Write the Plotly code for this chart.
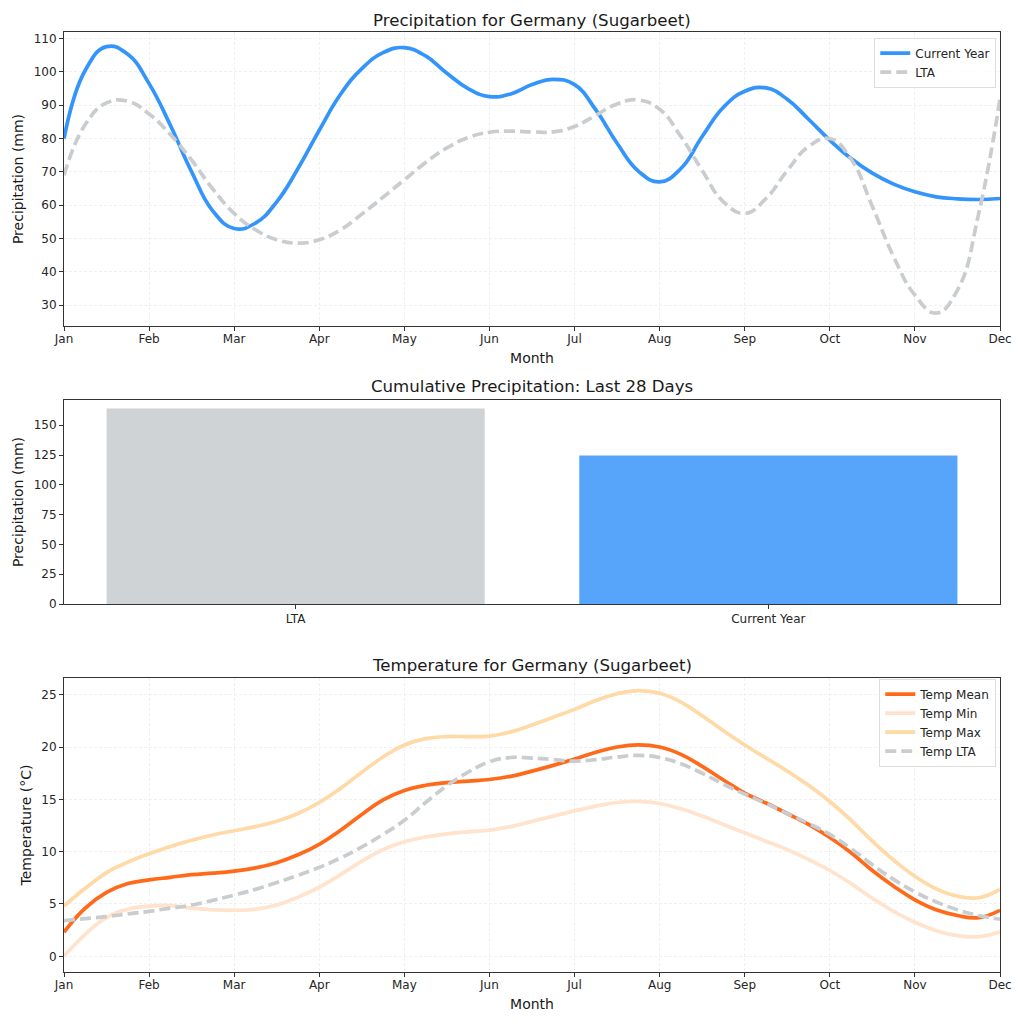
import plotly.graph_objects as go

# 月ラベルと横軸の位置（四半月きざみで読み取り）
months = ["Jan", "Feb", "Mar", "Apr", "May", "Jun", "Jul", "Aug", "Sep", "Oct", "Nov", "Dec"]
month_pos = [0, 1, 2, 3, 4, 5, 6, 7, 8, 9, 10, 11]
samples = [
    0, 0.25, 0.5, 0.75, 1, 1.25, 1.5, 1.75, 2, 2.25, 2.5, 2.75, 3, 3.25, 3.5, 3.75,
    4, 4.25, 4.5, 4.75, 5, 5.25, 5.5, 5.75, 6, 6.25, 6.5, 6.75, 7, 7.25, 7.5, 7.75,
    8, 8.25, 8.5, 8.75, 9, 9.25, 9.5, 9.75, 10, 10.25, 10.5, 10.75, 11,
]

precip_current = [
    80, 100.5, 107.6, 105.3, 96.5, 84, 70, 58.2, 53, 54.6, 61, 71, 82.5, 93.3, 101, 105.8,
    107.3, 104.8, 99.6, 95, 92.6, 93.4, 96.2, 97.8, 96.2, 88.6, 78.6, 70.2, 67, 71, 80.6, 89.4,
    94.2, 95.2, 91.8, 85.8, 79.5, 74, 69.6, 66.3, 64, 62.5, 61.9, 61.7, 62,
]
precip_lta = [
    69, 84.2, 90.7, 91.2, 87.4, 81.2, 73.5, 64.8, 57.5, 52.6, 49.6, 48.6, 49.6, 52.6, 57.3, 62.4,
    67.6, 72.8, 77.2, 80.3, 81.9, 82.2, 82, 82, 83.6, 87, 90.4, 91.6, 88.8, 80.6, 70.4, 61,
    57.5, 62, 70.4, 77.6, 80, 73.8, 59.6, 44.5, 33, 27.6, 34.5, 57.5, 92,
]

bar_labels = ["LTA", "Current Year"]
bar_values = [164, 124.6]

temp_mean = [
    2.3, 4.6, 6.1, 6.95, 7.3, 7.55, 7.8, 7.95, 8.15, 8.45, 8.95, 9.7, 10.7, 12.05, 13.55, 14.95,
    15.85, 16.35, 16.6, 16.75, 16.9, 17.2, 17.7, 18.25, 18.85, 19.5, 20, 20.2, 20, 19.3, 18.15, 16.85,
    15.6, 14.65, 13.65, 12.6, 11.35, 9.9, 8.2, 6.7, 5.4, 4.45, 3.9, 3.7, 4.4,
]
temp_min = [
    0, 2.1, 3.7, 4.5, 4.8, 4.85, 4.6, 4.45, 4.4, 4.5, 4.9, 5.65, 6.6, 7.8, 9.1, 10.2,
    10.95, 11.4, 11.7, 11.9, 12.05, 12.4, 12.9, 13.4, 13.9, 14.35, 14.7, 14.8, 14.6, 14.1, 13.4, 12.6,
    11.8, 11, 10.2, 9.25, 8.2, 6.95, 5.55, 4.3, 3.25, 2.45, 1.98, 1.88, 2.35,
]
temp_max = [
    4.8, 6.5, 8, 9, 9.8, 10.5, 11.1, 11.6, 12, 12.4, 12.9, 13.65, 14.7, 16.05, 17.6, 19.05,
    20.2, 20.8, 21, 21, 21.05, 21.45, 22.1, 22.85, 23.6, 24.45, 25.1, 25.4, 25.15, 24.3, 23, 21.55,
    20.2, 18.95, 17.7, 16.35, 14.8, 13, 11, 9.2, 7.65, 6.45, 5.75, 5.6, 6.4,
]
temp_lta = [
    3.4, 3.6, 3.8, 4.05, 4.3, 4.6, 4.9, 5.35, 5.85, 6.4, 7.05, 7.75, 8.5, 9.4, 10.45, 11.65,
    13, 14.7, 16.3, 17.6, 18.6, 19, 18.95, 18.8, 18.65, 18.8, 19.05, 19.2, 19, 18.4, 17.5, 16.45,
    15.5, 14.6, 13.65, 12.7, 11.65, 10.3, 8.75, 7.35, 6.15, 5.2, 4.45, 3.9, 3.55,
]

FONT = "DejaVu Sans"
DARK = "#333333"
GRID = "#f0f0f0"
LTA_COLOR = "#c9cdd0"
LTA_DASH = "11px,5px"

legend_axes = {"legend": ("x", "y"), "legend2": ("x3", "y3")}


def line(y, name, color, legend, dash="solid", width=3.7):
    return go.Scatter(
        x=samples, y=y, name=name, mode="lines", legend=legend, xaxis=legend_axes[legend][0],
        yaxis=legend_axes[legend][1],
        line=dict(color=color, width=width, dash=dash, shape="spline", smoothing=1.3),
    )


fig = go.Figure()
fig.add_trace(line(precip_current, "Current Year", "#3395fb", "legend"))
fig.add_trace(line(precip_lta, "LTA", LTA_COLOR, "legend", dash=LTA_DASH))
fig.add_trace(go.Bar(
    x=bar_labels, y=bar_values, width=0.8, xaxis="x2", yaxis="y2", showlegend=False,
    marker=dict(color=["#d0d3d6", "#57a5fb"], line=dict(width=0)),
))
fig.add_trace(line(temp_mean, "Temp Mean", "#ff6a1a", "legend2"))
fig.add_trace(line(temp_min, "Temp Min", "#ffe3cc", "legend2"))
fig.add_trace(line(temp_max, "Temp Max", "#ffd9a6", "legend2"))
fig.add_trace(line(temp_lta, "Temp LTA", LTA_COLOR, "legend2", dash=LTA_DASH))

axis_style = dict(
    showline=True, mirror=True, linecolor=DARK, linewidth=1, ticks="outside", ticklen=4,
    tickwidth=1, tickcolor=DARK, zeroline=False, tickfont=dict(size=12, color="#262626"),
)
grid_style = dict(showgrid=True, gridcolor=GRID, gridwidth=1, griddash="3px,2px")
month_axis = dict(
    tickmode="array", tickvals=month_pos, ticktext=months, range=[0, 11], tickangle=0,
    ticklabelstandoff=-2, **axis_style, **grid_style,
)
label_font = dict(size=14, color="#1a1a1a")


def legend_box(y):
    return dict(
        x=0.996, xanchor="right", y=y, yanchor="top", bgcolor="rgba(255,255,255,0.8)",
        bordercolor="#dddddd", borderwidth=1, font=dict(size=12, color="#262626"),
        tracegroupgap=0, itemwidth=30,
    )


def title_note(text, y_px):
    return dict(
        text=text, x=0.5, xref="paper", xanchor="center", y=(972 - y_px) / 940, yref="paper",
        yanchor="middle", showarrow=False, font=dict(size=16.6, color="#1a1a1a"),
    )


fig.update_layout(
    width=1024, height=1024, autosize=False,
    margin=dict(l=64, r=24, t=32, b=52),
    paper_bgcolor="white", plot_bgcolor="white",
    font=dict(family=FONT),
    bargap=0.2,
    xaxis=dict(month_axis, domain=[0, 1], anchor="y",
               title=dict(text="Month", font=label_font, standoff=7)),
    yaxis=dict(domain=[646 / 940, 1], anchor="x", range=[23.7, 112],
               tickvals=[30, 40, 50, 60, 70, 80, 90, 100, 110],
               title=dict(text="Precipitation (mm)", font=label_font, standoff=6),
               **axis_style, **grid_style),
    xaxis2=dict(domain=[0, 1], anchor="y2", range=[-0.49, 1.49], type="category", **axis_style),
    yaxis2=dict(domain=[368 / 940, 572 / 940], anchor="x2", range=[0, 171.2],
                tickvals=[0, 25, 50, 75, 100, 125, 150],
                title=dict(text="Precipitation (mm)", font=label_font, standoff=6),
                **axis_style),
    xaxis3=dict(month_axis, domain=[0, 1], anchor="y3",
                title=dict(text="Month", font=label_font, standoff=7)),
    yaxis3=dict(domain=[0, 294 / 940], anchor="x3", range=[-1.5, 26.6],
                tickvals=[0, 5, 10, 15, 20, 25],
                title=dict(text="Temperature (°C)", font=label_font, standoff=6),
                **axis_style, **grid_style),
    legend=legend_box(0.994),
    legend2=legend_box(0.312),
    annotations=[
        title_note("Precipitation for Germany (Sugarbeet)", 20),
        title_note("Cumulative Precipitation: Last 28 Days", 386),
        title_note("Temperature for Germany (Sugarbeet)", 665),
    ],
)

fig.write_html(
    "out.html",
    config=dict(displayModeBar=False),
    post_script="document.body.style.margin='0';",
)
